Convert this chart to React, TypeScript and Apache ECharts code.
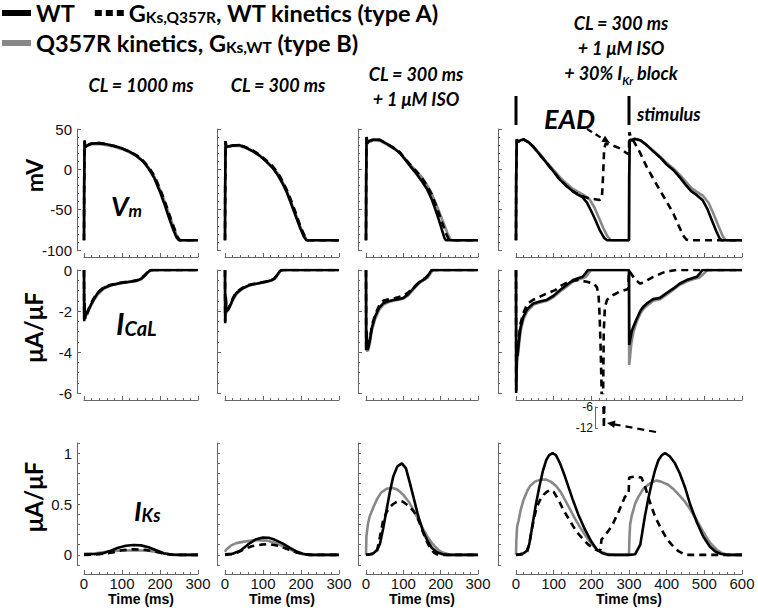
import React, { useEffect, useRef } from 'react';
import * as echarts from 'echarts';

// ---------------- data ----------------
const TIME_MAX = [300, 300, 300, 600];
const X_TICK_INTERVAL = 100;
const VM_RANGE = [-100, 50];
const CAL_RANGE = [-6, 0];
const KS_RANGE = [-0.1, 1.1];
const KS_TICKS = [-0.1, 0, 0.1, 0.2, 0.3, 0.4, 0.5, 0.6, 0.7, 0.8, 0.9, 1, 1.1];
const KS_LABELS = [0, 0.5, 1];
const INSET_TICKS = [-12, -6];

const COL_TITLES = ['CL = 1000 ms', 'CL = 300 ms', 'CL = 300 ms\n+ 1 μM ISO', 'CL = 300 ms\n+ 1 μM ISO\n+ 30% I_Kr block'];

// Vm (mV)
const vm1000_WT = [[0,-88],[0.5,-20],[1.5,35],[3,30],[5,28],[10,30],[20,32],[40,32.5],[60,31],[80,29],[100,26],[120,22],[140,16],[155,10],[170,1],[185,-11],[200,-28],[213,-45],[225,-62],[235,-75],[243,-84],[250,-88],[300,-88]];
const vm1000_A = [[0,-88],[0.5,-20],[1.5,36],[3,30],[5,28],[10,30],[20,32],[40,32.5],[60,31],[80,29],[100,26],[120,22],[140,17],[155,11],[170,3],[185,-8],[200,-24],[213,-40],[225,-57],[236,-71],[246,-84],[253,-88],[300,-88]];
const vm1000_B = [[0,-88],[0.5,-20],[1.5,34],[3,29],[5,28],[10,29.5],[20,31],[40,31.5],[60,30],[80,28],[100,25],[120,21],[140,16],[155,10],[170,2],[185,-9],[200,-25],[213,-41],[225,-57],[236,-72],[246,-85],[254,-88],[300,-88]];

const vm300_WT = [[0,-88],[0.5,-20],[1.5,35],[3,29],[5,28],[10,28.5],[20,29.5],[38,30],[55,27],[75,22],[91,17],[110,9],[125,2],[140,-8],[152,-18],[163,-29],[175,-44],[187,-59],[198,-73],[207,-83],[214,-88],[300,-88]];
const vm300_A = [[0,-88],[0.5,-20],[1.5,35],[3,29],[5,28],[10,28.5],[20,29.5],[38,30],[55,27.5],[75,23],[91,18],[110,10.5],[125,4],[140,-5],[152,-15],[163,-26],[175,-40],[187,-55],[198,-70],[208,-81],[216,-88],[300,-88]];
const vm300_B = [[0,-88],[0.5,-20],[1.5,34],[3,28],[5,27.5],[10,28],[20,29],[38,29],[55,26.5],[75,22],[91,17],[110,9.5],[125,3],[140,-6],[152,-16],[163,-27],[175,-42],[187,-57],[198,-71],[208,-82],[216,-88],[300,-88]];

const vmIso_WT = [[0,-88],[0.5,-10],[1.5,40],[4,33],[8,35],[20,37],[37,36.5],[55,32],[75,26],[91,20],[105,12],[120,3],[136,-6],[150,-15],[163,-24],[175,-36],[186,-50],[196,-64],[204,-76],[210,-85],[214,-88],[300,-88]];
const vmIso_A = [[0,-88],[0.5,-10],[1.5,40],[4,33],[8,35],[20,37],[37,36.5],[55,32],[75,26.5],[91,21],[105,13],[120,5],[136,-3],[150,-11],[163,-20],[175,-30],[186,-43],[197,-57],[207,-70],[216,-81],[222,-87],[226,-88],[300,-88]];
const vmIso_B = [[0,-88],[0.5,-10],[1.5,39],[4,32],[8,34],[20,36],[37,35.5],[55,31],[75,25.5],[91,20.5],[105,13],[120,5],[136,-3],[150,-10],[163,-19],[175,-29],[187,-42],[198,-55],[209,-68],[218,-79],[225,-86],[230,-88],[300,-88]];

const vmIkr_WT = [[0,-88],[0.5,-10],[2,37],[6,34],[12,36],[20,37],[35,33],[46,28],[60,20],[81,8],[100,-3],[117,-13],[135,-21],[150,-27],[163,-31],[175,-34],[188,-41],[200,-52],[212,-64],[223,-76],[234,-85],[242,-88],[300,-88],[300.5,-10],[302,37],[306,36],[315,38],[330,36],[347,30],[365,22],[382,15],[400,6],[418,-1],[435,-10],[450,-19],[465,-27],[480,-32],[495,-38],[508,-49],[520,-63],[532,-77],[541,-86],[547,-88],[600,-88]];
const vmIkr_A = [[0,-88],[0.5,-10],[2,37],[6,34],[12,36],[20,37],[35,33],[46,28],[60,20],[81,8],[100,-3],[117,-13],[135,-21],[150,-27],[165,-31],[180,-34],[195,-36],[210,-37],[222,-38],[228,-36],[231,-10],[234,25],[238,32],[255,30],[276,26],[294,20],[299.5,19],[301,46],[305,40],[316,32],[330,20],[347,3],[365,-12],[382,-26],[400,-40],[418,-55],[432,-70],[444,-82],[452,-87],[460,-88],[600,-88]];
const vmIkr_B = [[0,-88],[0.5,-10],[2,36],[6,34],[12,36],[20,37],[35,33],[46,28],[60,21],[81,9],[100,-1],[117,-10],[135,-18],[150,-24],[165,-28],[180,-32],[195,-37],[208,-47],[220,-60],[232,-73],[243,-83],[252,-88],[300,-88],[300.5,-10],[302,36],[306,36],[315,37],[330,36],[347,30],[365,23],[382,16],[400,8],[418,1],[435,-7],[450,-15],[465,-23],[480,-28],[497,-33],[512,-42],[525,-56],[538,-71],[549,-83],[556,-88],[600,-88]];

// I_CaL (µA/µF)
const cal1000_WT = [[0,0],[0.5,-2.5],[1.5,-1.6],[3,-2.4],[5,-2.0],[8,-2.15],[12,-1.95],[18,-1.7],[25,-1.45],[35,-1.15],[51,-0.88],[70,-0.74],[95,-0.64],[120,-0.57],[139,-0.52],[150,-0.43],[158,-0.3],[166,-0.14],[173,-0.03],[180,0],[300,0]];
const cal1000_A = [[0,0],[0.5,-2.4],[1.5,-1.7],[3,-2.3],[5,-2.0],[8,-2.1],[12,-1.9],[18,-1.65],[25,-1.4],[35,-1.12],[51,-0.86],[70,-0.72],[95,-0.62],[120,-0.56],[139,-0.5],[150,-0.41],[158,-0.28],[167,-0.12],[175,-0.02],[182,0],[300,0]];
const cal1000_B = [[0,0],[0.5,-2.3],[2,-2.3],[5,-2.2],[9,-2.15],[13,-1.95],[19,-1.72],[26,-1.48],[36,-1.2],[52,-0.92],[70,-0.76],[95,-0.65],[120,-0.58],[139,-0.53],[151,-0.45],[160,-0.3],[168,-0.13],[176,-0.02],[183,0],[300,0]];

const cal300_WT = [[0,0],[0.5,-2.6],[2,-1.3],[4,-2.0],[8,-1.95],[12,-1.8],[20,-1.45],[29,-1.14],[45,-0.9],[64,-0.74],[85,-0.66],[108,-0.57],[122,-0.5],[130,-0.42],[137,-0.25],[143,-0.08],[149,0],[300,0]];
const cal300_A = [[0,0],[0.5,-2.5],[2,-1.4],[4,-1.95],[8,-1.9],[12,-1.75],[20,-1.4],[29,-1.1],[45,-0.88],[64,-0.72],[85,-0.64],[108,-0.56],[123,-0.49],[131,-0.4],[139,-0.22],[145,-0.06],[151,0],[300,0]];
const cal300_B = [[0,0],[0.5,-2.3],[3,-2.1],[6,-2.0],[10,-1.9],[15,-1.7],[22,-1.42],[31,-1.16],[46,-0.92],[64,-0.76],[85,-0.67],[108,-0.58],[123,-0.51],[131,-0.42],[139,-0.24],[145,-0.07],[151,0],[300,0]];

const calIso_WT = [[0,0],[0.5,-3.9],[2,-3.0],[3,-3.9],[6,-3.8],[10.7,-3.4],[16,-2.8],[24,-2.28],[35,-1.85],[46,-1.63],[60,-1.52],[73,-1.46],[88,-1.42],[100,-1.36],[113,-1.18],[127,-0.89],[137,-0.7],[145,-0.57],[152,-0.5],[158,-0.42],[163,-0.34],[168,-0.22],[172,-0.1],[176,0],[300,0]];
const calIso_A = [[0,0],[0.5,-3.8],[2,-3.1],[3,-3.8],[6,-3.7],[10.7,-3.3],[16,-2.7],[24,-2.2],[35,-1.75],[46,-1.5],[60,-1.43],[73,-1.4],[88,-1.32],[100,-1.26],[113,-1.1],[127,-0.86],[137,-0.68],[145,-0.55],[152,-0.47],[158,-0.4],[163,-0.32],[168,-0.2],[173,-0.08],[178,0],[300,0]];
const calIso_B = [[0,0],[0.5,-3.9],[3,-3.95],[6,-3.9],[10,-3.6],[15,-3.0],[24,-2.42],[35,-1.95],[46,-1.7],[60,-1.57],[73,-1.5],[88,-1.45],[100,-1.4],[113,-1.24],[127,-0.95],[137,-0.75],[145,-0.6],[152,-0.52],[160,-0.44],[166,-0.35],[171,-0.22],[175,-0.1],[180,0],[300,0]];

const calIkr_WT = [[0,0],[0.5,-6],[2,-3.5],[4,-4.2],[6,-3.74],[12,-2.8],[19.5,-2.28],[30,-1.9],[46,-1.63],[65,-1.52],[81.5,-1.46],[100,-1.25],[117,-0.98],[135,-0.72],[152,-0.49],[165,-0.4],[177,-0.33],[185,-0.15],[191,0],[300,0],[300.5,-3.66],[303,-3.4],[307,-3.0],[312,-2.75],[320,-2.4],[330,-2.0],[338,-1.79],[350,-1.6],[364,-1.42],[382,-1.36],[400,-1.12],[418,-0.9],[435,-0.66],[453,-0.49],[468,-0.4],[480,-0.33],[489,-0.15],[495,0],[600,0]];
const calIkr_A = [[0,0],[0.5,-5.9],[2,-3.6],[4,-4.0],[6,-3.6],[12,-2.6],[19.5,-2.1],[30,-1.65],[46,-1.45],[55,-1.38],[81,-1.15],[104,-0.98],[120,-0.76],[140,-0.57],[162,-0.49],[188,-0.57],[206,-0.66],[215,-0.85],[219,-1.2],[222,-2.2],[225,-4],[228,-6.5],[229.5,-12],[231,-6.5],[233,-3],[236,-1.8],[242,-1.45],[258,-1.22],[275,-1.06],[298,-0.93],[300,-0.05],[305,-0.15],[315,-0.45],[329,-0.66],[340,-0.6],[350,-0.48],[362,-0.36],[374,-0.26],[390,-0.13],[409,-0.05],[425,0],[600,0]];
const calIkr_B = [[0,0],[0.5,-5.5],[3,-4.5],[6,-4.0],[12,-3.0],[20,-2.4],[30,-2.0],[46,-1.7],[65,-1.58],[82,-1.5],[100,-1.32],[117,-1.05],[135,-0.8],[152,-0.56],[168,-0.45],[184,-0.36],[193,-0.15],[200,0],[300,0],[300.5,-4.63],[303,-4.2],[306,-3.6],[312,-3.0],[320,-2.55],[330,-2.12],[338,-1.9],[350,-1.7],[364,-1.5],[382,-1.43],[400,-1.2],[418,-0.96],[435,-0.72],[453,-0.56],[470,-0.45],[488,-0.36],[500,-0.15],[508,0],[600,0]];

// I_Ks (µA/µF)
const ks1000_WT = [[0,0.005],[30,0.008],[50,0.015],[70,0.04],[90,0.07],[110,0.09],[130,0.097],[150,0.093],[170,0.075],[190,0.045],[210,0.015],[230,0.003],[250,0],[300,0]];
const ks1000_A = [[0,0],[40,0.005],[70,0.02],[100,0.045],[130,0.055],[160,0.05],[190,0.03],[210,0.012],[230,0.002],[250,0],[300,0]];
const ks1000_B = [[0,0.01],[30,0.015],[60,0.03],[90,0.04],[130,0.045],[170,0.04],[195,0.025],[215,0.008],[235,0],[300,0]];

const ks300_WT = [[0,0.005],[20,0.01],[40,0.04],[60,0.1],[80,0.15],[100,0.17],[115,0.168],[130,0.15],[150,0.115],[170,0.07],[190,0.03],[205,0.01],[220,0],[300,0]];
const ks300_A = [[0,0],[25,0.01],[45,0.045],[70,0.085],[95,0.1],[115,0.105],[140,0.09],[165,0.055],[190,0.02],[210,0.005],[230,0],[300,0]];
const ks300_B = [[0,0.03],[3,0.05],[15,0.09],[30,0.115],[50,0.13],[80,0.145],[110,0.14],[135,0.115],[160,0.07],[185,0.03],[205,0.005],[220,0],[300,0]];

const ksIso_WT = [[0,0],[10,0.005],[20,0.015],[30,0.05],[37.5,0.11],[46,0.26],[55,0.44],[64,0.62],[73,0.77],[84,0.87],[96,0.9],[107,0.85],[118,0.7],[129,0.54],[140,0.38],[152,0.24],[163,0.15],[176,0.07],[190,0.025],[205,0.005],[215,0],[300,0]];
const ksIso_A = [[0,0],[15,0.005],[29,0.03],[33,0.1],[37.5,0.18],[46,0.34],[55,0.42],[64,0.47],[73,0.5],[82,0.52],[92,0.53],[100,0.52],[118,0.47],[127,0.43],[136,0.38],[145,0.3],[154,0.21],[163,0.13],[172,0.065],[181,0.025],[190,0.005],[200,0],[300,0]];
const ksIso_B = [[0,0],[1,0.18],[5,0.3],[10,0.38],[20,0.47],[30,0.55],[40,0.61],[55,0.65],[70,0.66],[85,0.64],[100,0.59],[115,0.52],[127,0.44],[140,0.35],[154,0.245],[167,0.165],[180,0.1],[195,0.045],[207,0.02],[225,0],[300,0]];

const ksIkr_WT = [[0,0],[10,0.005],[20,0.015],[29,0.04],[35,0.1],[44,0.3],[53,0.5],[62,0.67],[71,0.82],[80,0.93],[88,0.98],[97,1.0],[106,0.98],[117,0.9],[130,0.77],[150,0.55],[165,0.4],[183,0.25],[200,0.13],[215,0.05],[230,0.015],[244,0],[300,0],[316,0.005],[330,0.1],[342,0.375],[351,0.55],[360,0.7],[369,0.83],[378,0.93],[387,0.98],[396,1.0],[408,0.97],[422,0.9],[435,0.8],[449,0.66],[462,0.5],[480,0.32],[497,0.18],[515,0.08],[530,0.03],[545,0.008],[560,0],[600,0]];
const ksIkr_A = [[0,0],[15,0.003],[29,0.02],[36,0.12],[42,0.25],[48,0.36],[55,0.47],[64,0.54],[73,0.59],[82,0.62],[91,0.64],[100,0.62],[108,0.57],[117,0.51],[126,0.44],[139,0.36],[152,0.28],[165,0.21],[179,0.15],[192,0.1],[206,0.065],[218,0.04],[224,0.05],[227,0.15],[240,0.21],[254,0.28],[272,0.42],[289,0.57],[299,0.6],[300.5,0.76],[315,0.77],[333,0.76],[342,0.68],[351,0.57],[360,0.47],[370,0.37],[387,0.245],[400,0.16],[413,0.1],[430,0.04],[449,0],[600,0]];
const ksIkr_B = [[0,0],[1,0.15],[3,0.28],[7,0.34],[13,0.45],[20,0.54],[30,0.63],[38,0.68],[50,0.72],[65,0.74],[80,0.74],[92,0.72],[106,0.68],[120,0.61],[133,0.52],[146,0.43],[159,0.34],[172,0.26],[186,0.18],[200,0.11],[212,0.06],[225,0.03],[240,0.01],[260,0],[300,0],[301,0.15],[303,0.3],[307,0.38],[316,0.5],[325,0.57],[338,0.65],[351,0.69],[364,0.72],[373,0.73],[385,0.72],[404,0.69],[420,0.64],[435,0.58],[449,0.52],[462,0.45],[480,0.34],[498,0.22],[515,0.12],[533,0.05],[548,0.015],[560,0],[600,0]];

const STIMULUS_TIMES = [0, 300];

// ---------------- layout ----------------
const COL_LEFT = [84, 225, 366, 516];
const COL_WIDTH = [114, 114, 112, 226];
const Y_AXIS_OFFSET = [7, 8, 8, 18];
const ROW_TOP = [129, 270, 443];
const ROW_HEIGHT = [121, 123, 122];
const X_AXIS_OFFSET = [7, 7, 9];

const BLACK = '#000000';
const GRAY = '#888888';
const AXIS = '#666666';
const LW = 2.6;
const DASH = [7, 5];
const SANS = 'Lato';
const TICKFONT = 'Liberation Sans';

const panels = [
  { row: 0, col: 0, wt: vm1000_WT, a: vm1000_A, b: vm1000_B },
  { row: 0, col: 1, wt: vm300_WT, a: vm300_A, b: vm300_B },
  { row: 0, col: 2, wt: vmIso_WT, a: vmIso_A, b: vmIso_B },
  { row: 0, col: 3, wt: vmIkr_WT, a: vmIkr_A, b: vmIkr_B },
  { row: 1, col: 0, wt: cal1000_WT, a: cal1000_A, b: cal1000_B },
  { row: 1, col: 1, wt: cal300_WT, a: cal300_A, b: cal300_B },
  { row: 1, col: 2, wt: calIso_WT, a: calIso_A, b: calIso_B },
  { row: 1, col: 3, wt: calIkr_WT, a: calIkr_A, b: calIkr_B },
  { row: 2, col: 0, wt: ks1000_WT, a: ks1000_A, b: ks1000_B },
  { row: 2, col: 1, wt: ks300_WT, a: ks300_A, b: ks300_B },
  { row: 2, col: 2, wt: ksIso_WT, a: ksIso_A, b: ksIso_B },
  { row: 2, col: 3, wt: ksIkr_WT, a: ksIkr_A, b: ksIkr_B },
];

const LEGEND_TEXT: Record<string, string> = {
  WT: '{m|WT}',
  A: '{m|G}{s|Ks,Q357R}{m|, WT kinetics (type A)}',
  B: '{m|Q357R kinetics, G}{s|Ks,WT}{m| (type B)}',
};

function lineSeries(name: string, data: number[][], idx: number) {
  const color = name === 'B' ? GRAY : BLACK;
  return {
    type: 'line',
    name,
    xAxisIndex: idx,
    yAxisIndex: idx,
    data,
    symbol: 'none',
    showSymbol: false,
    silent: true,
    clip: true,
    itemStyle: { color },
    lineStyle: { color, width: LW, type: name === 'A' ? DASH : 'solid', cap: 'butt' },
  };
}

function buildOption() {
  const grid: any[] = [];
  const xAxis: any[] = [];
  const yAxis: any[] = [];
  const series: any[] = [];

  panels.forEach((p, i) => {
    grid.push({
      left: COL_LEFT[p.col], top: ROW_TOP[p.row], width: COL_WIDTH[p.col], height: ROW_HEIGHT[p.row],
      containLabel: false, outerBoundsMode: 'none',
    });
    const showX = p.row === 2;
    xAxis.push({
      gridIndex: i, type: 'value', min: 0, max: TIME_MAX[p.col], interval: X_TICK_INTERVAL,
      offset: X_AXIS_OFFSET[p.row],
      axisLine: { show: true, onZero: false, lineStyle: { color: AXIS, width: 1 } },
      axisTick: { show: true, inside: true, length: 4, lineStyle: { color: AXIS } },
      minorTick: { show: true, splitNumber: 5, length: 2, lineStyle: { color: AXIS } },
      splitLine: { show: false },
      axisLabel: { show: showX, fontFamily: TICKFONT, fontSize: 15, color: '#111', margin: 2 },
      name: showX ? 'Time (ms)' : '',
      nameLocation: 'middle', nameGap: 18, nameMoveOverlap: false,
      nameTextStyle: { fontFamily: TICKFONT, fontWeight: 'bold', fontSize: 14, color: '#000' },
    });
    const showY = p.col === 0;
    const yBase: any = {
      gridIndex: i, type: 'value', offset: Y_AXIS_OFFSET[p.col],
      axisLine: { show: true, onZero: false, lineStyle: { color: AXIS, width: 1 } },
      splitLine: { show: false },
      name: showY ? (p.row === 0 ? 'mV' : 'μA/μF') : '',
      nameLocation: 'middle', nameRotate: 90, nameGap: 32, nameMoveOverlap: false,
      nameTextStyle: {
        fontFamily: SANS, fontWeight: 'bold', fontSize: p.row === 0 ? 23 : 24, color: '#000',
        padding: p.row === 0 ? [0, 0, 0, 28] : p.row === 1 ? [0, 0, 0, 8] : [0, 0, 0, 14],
      },
    };
    if (p.row === 0) {
      Object.assign(yBase, {
        min: VM_RANGE[0], max: VM_RANGE[1], interval: 50,
        axisTick: { show: true, inside: true, length: 4, lineStyle: { color: AXIS } },
        minorTick: { show: true, splitNumber: 5, length: 2, lineStyle: { color: AXIS } },
        axisLabel: { show: showY, fontFamily: TICKFONT, fontSize: 15, color: '#111', margin: 5 },
      });
    } else if (p.row === 1) {
      Object.assign(yBase, {
        min: CAL_RANGE[0], max: CAL_RANGE[1], interval: 2,
        axisTick: { show: true, inside: true, length: 4, lineStyle: { color: AXIS } },
        minorTick: { show: true, splitNumber: 4, length: 2, lineStyle: { color: AXIS } },
        axisLabel: { show: showY, fontFamily: TICKFONT, fontSize: 15, color: '#111', margin: 5 },
      });
    } else {
      Object.assign(yBase, {
        min: KS_RANGE[0], max: KS_RANGE[1],
        axisTick: { show: true, inside: true, length: 3, customValues: KS_TICKS, lineStyle: { color: AXIS } },
        axisLabel: { show: showY, customValues: KS_LABELS, fontFamily: TICKFONT, fontSize: 15, color: '#111', margin: 5 },
      });
    }
    yAxis.push(yBase);
    series.push(lineSeries('B', p.b, i), lineSeries('WT', p.wt, i), lineSeries('A', p.a, i));
  });

  // inset showing the -6 .. -12 excursion of the type A I_CaL trace
  const insetIdx = panels.length;
  grid.push({ left: 598, top: 407, width: 12, height: 21, containLabel: false, outerBoundsMode: 'none' });
  xAxis.push({ gridIndex: insetIdx, type: 'value', min: 200, max: 260, show: false });
  yAxis.push({
    gridIndex: insetIdx, type: 'value', min: INSET_TICKS[0], max: INSET_TICKS[1], offset: 3,
    axisLine: { show: true, onZero: false, lineStyle: { color: AXIS, width: 1 } },
    axisTick: { show: true, inside: true, length: 3, customValues: INSET_TICKS, lineStyle: { color: AXIS } },
    axisLabel: { show: true, customValues: INSET_TICKS, fontFamily: TICKFONT, fontSize: 12, color: '#111', margin: 2 },
    splitLine: { show: false },
  });
  series.push(lineSeries('A', calIkr_A, insetIdx));

  const legendText = {
    fontFamily: SANS, fontWeight: 'bold', fontSize: 23.5, color: '#000',
    rich: {
      m: { fontFamily: SANS, fontWeight: 'bold', fontSize: 23.5, color: '#000' },
      s: { fontFamily: SANS, fontWeight: 'bold', fontSize: 15.5, color: '#000', verticalAlign: 'bottom' },
    },
  };
  const legendCommon = {
    orient: 'horizontal', padding: 0, selectedMode: false, itemGap: 20,
    itemWidth: 29, itemHeight: 6, formatter: (n: string) => LEGEND_TEXT[n], textStyle: legendText,
  };

  const c4x = (t: number) => COL_LEFT[3] + (t / TIME_MAX[3]) * COL_WIDTH[3];
  const titleRich = {
    t: { fontFamily: SANS, fontWeight: 'bold', fontStyle: 'italic', fontSize: 18, color: '#000', lineHeight: 25 },
    s: { fontFamily: SANS, fontWeight: 'bold', fontStyle: 'italic', fontSize: 11, color: '#000', verticalAlign: 'bottom' },
  };
  const titleText = (s: string) =>
    s.split('\n').map((line) => {
      const m = line.match(/^(.*)I_(\w+)(.*)$/);
      if (m) return `{t|${m[1]}I}{s|${m[2]}}{t|${m[3]}}`;
      return `{t|${line}}`;
    }).join('\n');
  const titleCenters = [[141, 85], [278, 85], [416, 86], [621, 48]];

  const labelRich = (big: number, small: number) => ({
    a: { fontFamily: SANS, fontWeight: 'bold', fontStyle: 'italic', fontSize: big, color: '#000' },
    b: { fontFamily: SANS, fontWeight: 'bold', fontStyle: 'italic', fontSize: small, color: '#000', verticalAlign: 'bottom' },
  });

  const graphic: any[] = [];
  COL_TITLES.forEach((s, c) => {
    graphic.push({
      type: 'text', x: titleCenters[c][0], y: titleCenters[c][1], silent: true,
      style: { text: titleText(s), rich: titleRich, align: 'center', verticalAlign: 'middle' },
    });
  });
  graphic.push(
    { type: 'text', x: 111, y: 205, silent: true, style: { text: '{a|V}{b|m}', rich: labelRich(27, 17), verticalAlign: 'middle' } },
    { type: 'text', x: 116, y: 323, silent: true, style: { text: '{a|I}{b|CaL}', rich: labelRich(30, 20), verticalAlign: 'middle' } },
    { type: 'text', x: 134, y: 510, silent: true, style: { text: '{a|I}{b|Ks}', rich: labelRich(27, 18), verticalAlign: 'middle' } },
    { type: 'text', x: 544, y: 118, silent: true, style: { text: 'EAD', fontFamily: SANS, fontWeight: 'bold', fontStyle: 'italic', fontSize: 27, fill: '#000', verticalAlign: 'middle' } },
    { type: 'text', x: 637, y: 114, silent: true, style: { text: 'stimulus', fontFamily: SANS, fontWeight: 'bold', fontStyle: 'italic', fontSize: 18, fill: '#000', verticalAlign: 'middle' } },
  );
  STIMULUS_TIMES.forEach((t) => {
    graphic.push({ type: 'rect', silent: true, shape: { x: c4x(t) - 1.5, y: 96, width: 3, height: 29 }, style: { fill: '#000' } });
  });
  // EAD arrow
  graphic.push(
    { type: 'line', silent: true, shape: { x1: 587, y1: 129, x2: 604, y2: 139.5 }, style: { stroke: '#000', lineWidth: 2.2, lineDash: [6, 4] } },
    { type: 'polygon', silent: true, shape: { points: [[610, 143], [601.4, 141.8], [605, 135.8]] }, style: { fill: '#000' } },
    // inset arrow
    { type: 'line', silent: true, shape: { x1: 656, y1: 432, x2: 614, y2: 424.3 }, style: { stroke: '#000', lineWidth: 2.2, lineDash: [7, 5] } },
    { type: 'polygon', silent: true, shape: { points: [[607, 423], [615.5, 420.5], [614.2, 428]] }, style: { fill: '#000' } },
  );

  return {
    animation: false,
    backgroundColor: '#fff',
    legend: [
      { ...legendCommon, left: 2, top: 1, data: [{ name: 'WT', icon: 'rect' }, { name: 'A', icon: 'path://M0,0h7v6h-7zM11,0h7v6h-7zM22,0h7v6h-7z' }] },
      { ...legendCommon, left: 2, top: 31, data: [{ name: 'B', icon: 'rect' }] },
    ],
    grid, xAxis, yAxis, series, graphic,
  };
}

export default function App() {
  const ref = useRef<HTMLDivElement>(null);
  useEffect(() => {
    if (!ref.current) return;
    const chart = echarts.init(ref.current, undefined, { renderer: 'svg' });
    chart.setOption(buildOption() as any);
    return () => chart.dispose();
  }, []);
  return <div ref={ref} style={{ position: 'fixed', left: 0, top: 0, width: 758, height: 608, background: '#fff' }} />;
}
